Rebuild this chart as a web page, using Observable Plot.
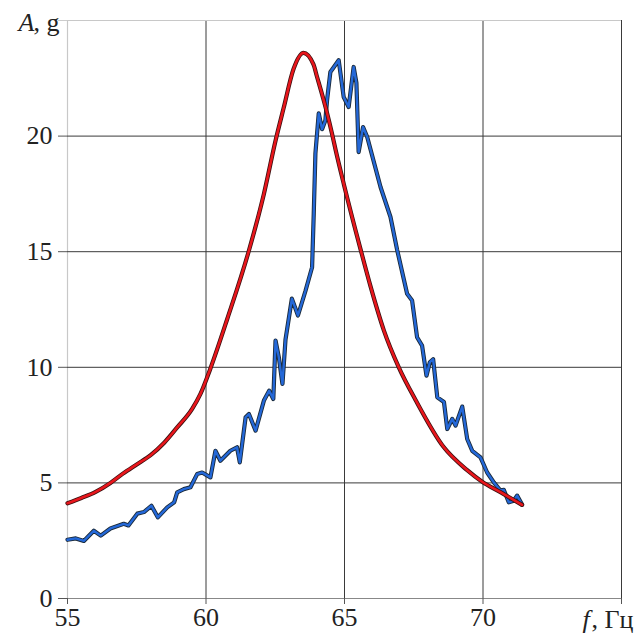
<!DOCTYPE html>
<html><head><meta charset="utf-8">
<script src="https://cdn.jsdelivr.net/npm/d3@7"></script>
<script src="https://cdn.jsdelivr.net/npm/@observablehq/plot@0.6"></script>
<style>body{margin:0;background:#fff}</style>
</head><body><div id="chart"></div>
<script>
const xTicks = [55, 60, 65, 70];
const yTicks = [0, 5, 10, 15, 20];
const xLabel = ["f", ", Гц"];
const yLabel = ["A", ", g"];

// red (model) curve
const redF = [55.0,55.5,56.0,56.55,57.0,57.5,58.0,58.5,58.96,59.5,59.8,60.16,60.77,61.55,62.09,62.51,62.8,63.16,63.52,63.88,64.0,64.37,64.55,64.68,64.98,65.58,65.94,66.42,66.96,67.56,68.58,69.43,69.97,70.63,71.41];
const redA = [4.12,4.35,4.6,5.0,5.4,5.8,6.2,6.75,7.4,8.2,8.85,9.95,12.1,15.05,17.5,19.8,21.2,22.9,23.6,23.1,22.6,21.0,20.1,19.4,17.9,15.1,13.5,11.6,10.0,8.6,6.55,5.55,5.05,4.6,4.05];

// blue (measured) curve
const blueF = [55.0,55.3,55.59,55.95,56.2,56.55,57.03,57.2,57.52,57.76,58.03,58.26,58.6,58.85,58.96,59.2,59.44,59.68,59.86,60.16,60.34,60.52,60.88,61.12,61.22,61.43,61.55,61.79,62.09,62.28,62.43,62.51,62.63,62.76,62.87,63.1,63.32,63.59,63.83,63.89,63.95,64.07,64.19,64.31,64.37,64.49,64.79,64.97,65.15,65.33,65.43,65.51,65.67,65.82,66.3,66.66,66.9,67.26,67.44,67.62,67.8,67.96,68.08,68.2,68.35,68.59,68.71,68.89,69.01,69.25,69.43,69.61,69.91,70.15,70.39,70.63,70.75,70.93,71.11,71.23,71.41];
const blueA = [2.54,2.6,2.49,2.93,2.72,3.03,3.23,3.16,3.67,3.74,4.01,3.51,3.94,4.16,4.59,4.73,4.81,5.38,5.45,5.24,6.39,5.96,6.39,6.54,5.89,7.84,7.98,7.26,8.56,8.99,8.63,11.16,10.43,9.28,11.2,12.97,12.24,13.3,14.33,16.65,19.25,20.98,20.3,20.68,21.55,22.77,23.28,21.69,21.26,22.99,22.3,19.31,20.39,19.96,17.8,16.5,15.08,13.18,12.89,11.3,10.94,9.64,10.22,10.35,8.7,8.5,7.33,7.77,7.48,8.3,6.9,6.39,6.1,5.45,5.02,4.67,4.7,4.16,4.23,4.45,4.06];

const red = redF.map((f, i) => ({f, a: redA[i]}));
const blue = blueF.map((f, i) => ({f, a: blueA[i]}));

const font = "Liberation Serif";
const fs = 26;

const chart = Plot.plot({
  width: 637, height: 637,
  marginLeft: 67, marginRight: 16, marginTop: 20, marginBottom: 39,
  x: {domain: [55, 75]},
  y: {domain: [0, 25]},
  style: {fontFamily: font, fontSize: fs + "px", background: "#fff", color: "#222"},
  marks: [
    Plot.ruleX([55], {stroke: "#c8c8c8", strokeWidth: 1.2}),
    Plot.ruleX([60, 65, 70, 75], {stroke: "#3a3a3a", strokeWidth: 1}),
    Plot.ruleY([25], {stroke: "#c8c8c8", strokeWidth: 1.2}),
    Plot.ruleY([5, 10, 15, 20], {stroke: "#3a3a3a", strokeWidth: 1}),
    Plot.ruleY([0], {stroke: "#888", strokeWidth: 1}),
    Plot.axisY(yTicks, {anchor: "left", label: null, tickSize: 9, tickPadding: 6, fontSize: fs, stroke: "#555", fill: "#222"}),
    Plot.axisY([25], {anchor: "left", label: null, tickSize: 9, tickFormat: () => "", stroke: "#ccc"}),
    Plot.axisX(xTicks, {anchor: "bottom", label: null, tickSize: 6, tickPadding: 3, fontSize: fs, stroke: "#555", fill: "#222"}),
    Plot.axisX([75], {anchor: "bottom", label: null, tickSize: 6, tickFormat: () => "", stroke: "#555"}),
    // axis titles
    Plot.text([yLabel[0]], {x: 55, y: 25, text: d => d, textAnchor: "end", dx: -33, dy: 2, fontStyle: "italic", fontSize: fs}),
    Plot.text([yLabel[1]], {x: 55, y: 25, text: d => d, textAnchor: "start", dx: -34, dy: 2, fontSize: fs}),
    Plot.text([xLabel[0]], {x: 75, y: 0, text: d => d, textAnchor: "start", dx: -39, dy: 21, fontStyle: "italic", fontSize: fs}),
    Plot.text([xLabel[1]], {x: 75, y: 0, text: d => d, textAnchor: "start", dx: -30, dy: 21, fontSize: fs}),
    // curves
    Plot.line(blue, {x: "f", y: "a", stroke: "#1a2a3a", strokeWidth: 4.2, strokeLinejoin: "round"}),
    Plot.line(blue, {x: "f", y: "a", stroke: "#2468d8", strokeWidth: 2.4, strokeLinejoin: "round"}),
    Plot.line(red, {x: "f", y: "a", stroke: "#3a1010", strokeWidth: 4.2, curve: "monotone-x"}),
    Plot.line(red, {x: "f", y: "a", stroke: "#e8161c", strokeWidth: 2.6, curve: "monotone-x"})
  ]
});
document.getElementById("chart").appendChild(chart);
</script>
</body></html>
